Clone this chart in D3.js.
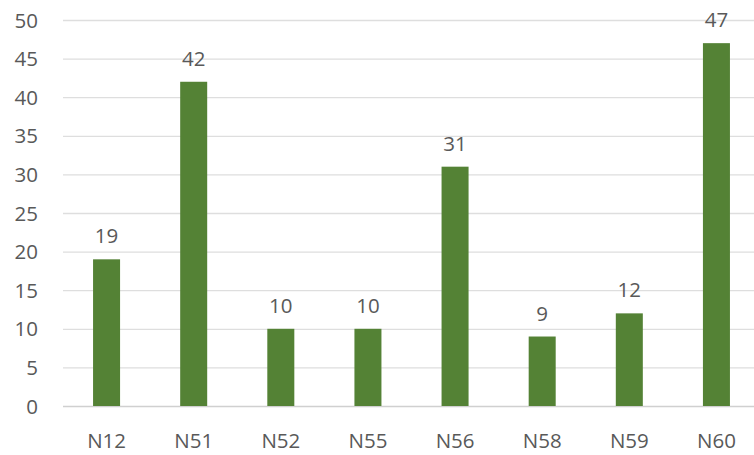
<!DOCTYPE html>
<html>
<head>
<meta charset="utf-8">
<script src="https://cdn.jsdelivr.net/npm/d3@7"></script>
<style>
  html, body { margin: 0; padding: 0; background: #fff; }
  svg { display: block; }
  text { font-family: "Open Sans", "Noto Sans", sans-serif; fill: #595959; }
</style>
</head>
<body>
<svg id="chart" width="754" height="455"></svg>
<script>
// Category labels and counts per category
const categories = ["N12", "N51", "N52", "N55", "N56", "N58", "N59", "N60"];
const counts = [19, 42, 10, 10, 31, 9, 12, 47];
const yTicks = [0, 5, 10, 15, 20, 25, 30, 35, 40, 45, 50];

const width = 754, height = 455;
const plot = { left: 63, right: 760, top: 20, bottom: 406 };
const fontSize = "20.5px";

const svg = d3.select("#chart");

const x = d3.scaleBand()
  .domain(categories)
  .range([plot.left, plot.right])
  .paddingInner(0.69)
  .paddingOuter(0.345);

const y = d3.scaleLinear()
  .domain([0, 50])
  .range([plot.bottom, plot.top]);

// Horizontal gridlines
svg.append("g")
  .selectAll("line")
  .data(yTicks)
  .join("line")
  .attr("x1", plot.left)
  .attr("x2", width)
  .attr("y1", d => y(d) + 0.5)
  .attr("y2", d => y(d) + 0.5)
  .attr("stroke", d => d === 0 ? "#d0d0d0" : "#dedede")
  .attr("stroke-width", 1.3);

// Y axis labels
const yAxis = d3.axisLeft(y).tickValues(yTicks).tickSize(0).tickPadding(0);
const gy = svg.append("g")
  .attr("transform", `translate(38,0)`)
  .call(yAxis);
gy.select(".domain").remove();
gy.selectAll("text")
  .style("font-size", fontSize)
  .attr("fill", "#595959")
  .attr("dy", "0.35em");

// Bars
svg.append("g")
  .selectAll("rect")
  .data(categories)
  .join("rect")
  .attr("x", d => x(d))
  .attr("width", x.bandwidth())
  .attr("y", (d, i) => y(counts[i]))
  .attr("height", (d, i) => y(0) - y(counts[i]))
  .attr("fill", "#548235");

// Value labels above bars
svg.append("g")
  .selectAll("text")
  .data(categories)
  .join("text")
  .attr("x", d => x(d) + x.bandwidth() / 2)
  .attr("y", (d, i) => y(counts[i]) - 16)
  .attr("text-anchor", "middle")
  .style("font-size", fontSize)
  .text((d, i) => counts[i]);

// X axis category labels
const xAxis = d3.axisBottom(x).tickSize(0).tickPadding(0);
const gx = svg.append("g")
  .attr("transform", `translate(0,${plot.bottom + 35})`)
  .call(xAxis);
gx.select(".domain").remove();
gx.selectAll("text")
  .style("font-size", fontSize)
  .attr("fill", "#595959")
  .attr("dy", "0.35em");
</script>
</body>
</html>
